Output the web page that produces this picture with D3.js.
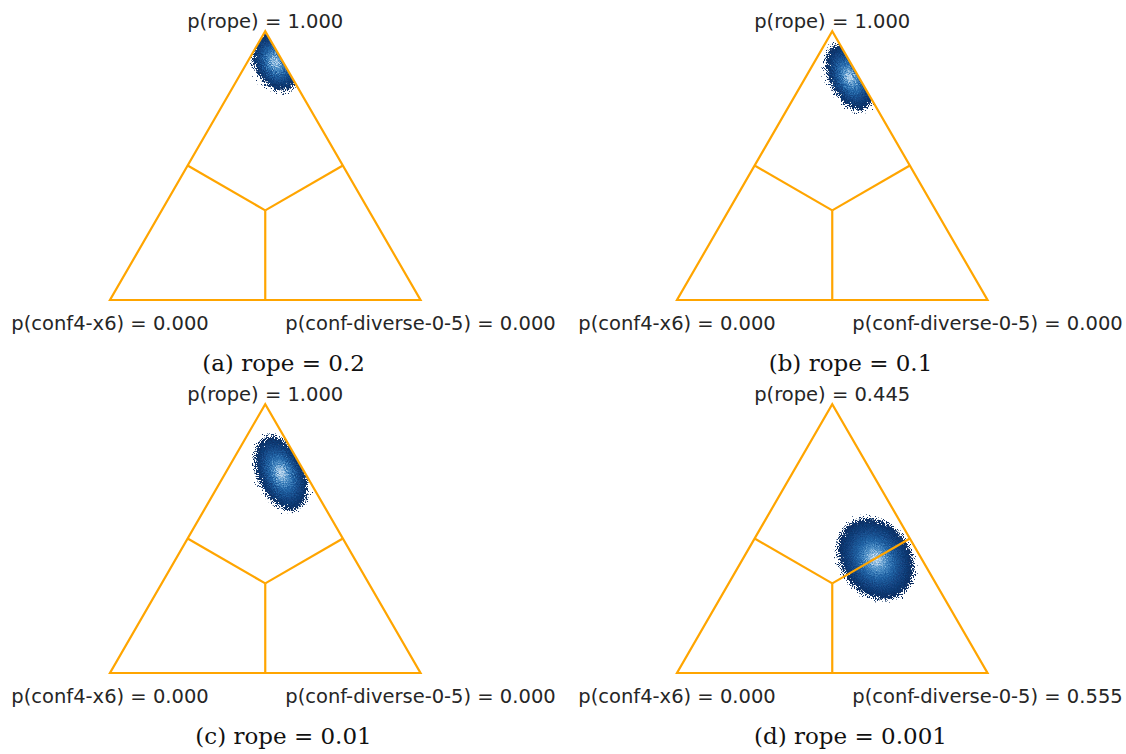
<!DOCTYPE html>
<html>
<head>
<meta charset="utf-8">
<script src="https://cdn.jsdelivr.net/npm/d3@7"></script>
<style>
  html, body { margin: 0; padding: 0; background: #fff; }
  svg { display: block; }
</style>
</head>
<body>
<svg id="chart" width="1126" height="754"></svg>
<script>
// Bayesian signed-rank comparison, one simplex per rope width.
const panelTags   = ["a", "b", "c", "d"];
const ropeValues  = ["0.2", "0.1", "0.01", "0.001"];
const leftName    = "conf4-x6";
const rightName   = "conf-diverse-0-5";
const probRope    = [1.000, 1.000, 1.000, 0.445];
const probLeft    = [0.000, 0.000, 0.000, 0.000];
const probRight   = [0.000, 0.000, 0.000, 0.555];

// Posterior sample cloud per panel: centre (p_rope, p_right),
// spread along its two principal axes (in simplex side units) and tilt.
const cloudRope   = [0.885, 0.829, 0.743, 0.424];
const cloudRight  = [0.090, 0.142, 0.180, 0.428];
const cloudMajor  = [0.098, 0.114, 0.126, 0.140];
const cloudMinor  = [0.068, 0.066, 0.076, 0.112];
const cloudTilt   = [63, 64, 66, 54];

const svg = d3.select("#chart");
const side = 310.5;
const tri = Math.sqrt(3) / 2;
const colLeft = [110, 677];
const rowBase = [300, 673];

const defs = svg.append("defs");

const grad = defs.append("radialGradient").attr("id", "cloudFill");
[[0.00, "#e2edf8"], [0.10, "#a9cbe7"], [0.26, "#4f90c7"], [0.46, "#2163a5"],
 [0.72, "#12427f"], [1.00, "#0a2c60"]]
  .forEach(([o, c]) => grad.append("stop").attr("offset", o).attr("stop-color", c));

const grain = defs.append("filter").attr("id", "grain")
  .attr("x", "-40%").attr("y", "-40%").attr("width", "180%").attr("height", "180%");
grain.append("feTurbulence").attr("type", "fractalNoise").attr("baseFrequency", 0.9)
  .attr("numOctaves", 2).attr("seed", 7).attr("result", "noise");
grain.append("feDisplacementMap").attr("in", "SourceGraphic").attr("in2", "noise")
  .attr("scale", 18).attr("xChannelSelector", "R").attr("yChannelSelector", "G");

panelTags.forEach((tag, i) => {
  const x0 = colLeft[i % 2];
  const y0 = rowBase[Math.floor(i / 2)];
  const x = d3.scaleLinear().domain([0, 1]).range([x0, x0 + side]);
  const y = d3.scaleLinear().domain([0, tri]).range([y0, y0 - side * tri]);

  // barycentric (rope, right) -> screen
  const px = (pr, pq) => [x(pq + pr / 2), y(pr * tri)];

  const L = px(0, 0), R = px(0, 1), T = px(1, 0);
  const C = px(1 / 3, 1 / 3);
  const mLT = px(0.5, 0), mRT = px(0.5, 0.5), mLR = px(0, 0.5);

  const g = svg.append("g");

  defs.append("clipPath").attr("id", "clip-" + tag)
    .append("polygon").attr("points", [L, R, T].map(p => p.join(",")).join(" "));

  // sample cloud
  const [cx, cy] = px(cloudRope[i], cloudRight[i]);
  const unit = x(1) - x(0);
  g.append("g").attr("clip-path", `url(#clip-${tag})`)
    .append("g").attr("filter", "url(#grain)")
    .append("ellipse")
    .attr("transform", `translate(${cx},${cy}) rotate(${cloudTilt[i]})`)
    .attr("rx", cloudMajor[i] * unit)
    .attr("ry", cloudMinor[i] * unit)
    .attr("fill", "url(#cloudFill)");

  // simplex outline and region borders
  const line = d3.line();
  const orange = "#ffa500";
  g.append("path").attr("d", line([L, R, T]) + "Z")
    .attr("fill", "none").attr("stroke", orange).attr("stroke-width", 2.2)
    .attr("stroke-linejoin", "miter");
  [mLT, mRT, mLR].forEach(m => {
    g.append("path").attr("d", line([C, m]))
      .attr("fill", "none").attr("stroke", orange).attr("stroke-width", 2.2);
  });

  const fmt = d3.format(".3f");
  const label = (txt, p, dy) => g.append("text")
    .attr("x", p[0]).attr("y", p[1] + dy)
    .attr("text-anchor", "middle")
    .attr("font-family", "DejaVu Sans").attr("font-size", 19.5)
    .attr("fill", "#262626").text(txt);
  label(`p(rope) = ${fmt(probRope[i])}`, T, -3);
  label(`p(${leftName}) = ${fmt(probLeft[i])}`, L, 30);
  label(`p(${rightName}) = ${fmt(probRight[i])}`, R, 30);

  g.append("text")
    .attr("x", x0 + 173.5).attr("y", y0 + 71)
    .attr("text-anchor", "middle")
    .attr("font-family", "DejaVu Serif").attr("font-size", 23)
    .attr("fill", "#111")
    .text(`(${tag}) rope = ${ropeValues[i]}`);
});
</script>
</body>
</html>
